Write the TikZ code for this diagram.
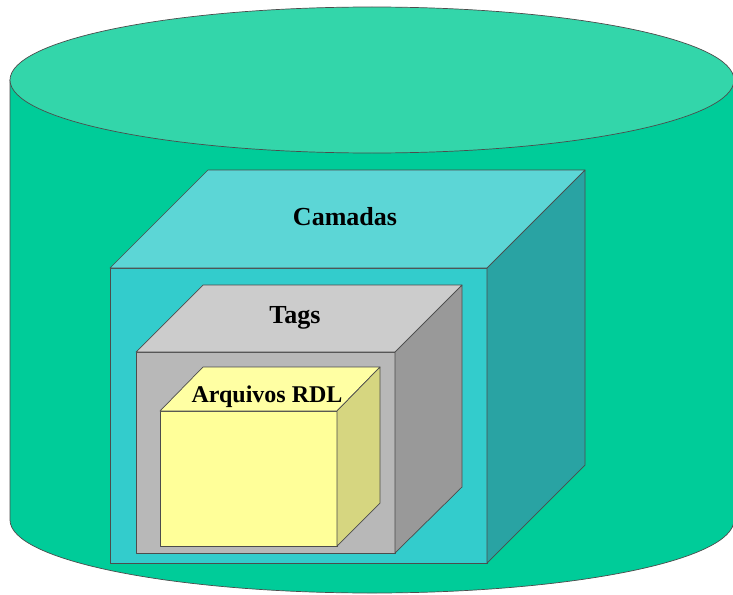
\documentclass[tikz,border=0pt]{standalone}
\usepackage{fontspec}
\setmainfont{Liberation Serif}
\definecolor{cyltop}{RGB}{51,214,170}
\definecolor{cylbody}{RGB}{0,204,153}
\definecolor{camfront}{RGB}{51,204,204}
\definecolor{camtop}{RGB}{92,214,214}
\definecolor{camside}{RGB}{41,163,163}
\definecolor{tagfront}{RGB}{184,184,184}
\definecolor{tagtop}{RGB}{204,204,204}
\definecolor{tagside}{RGB}{153,153,153}
\definecolor{rdlfront}{RGB}{255,255,153}
\definecolor{rdltop}{RGB}{255,255,163}
\definecolor{rdlside}{RGB}{214,214,128}
\begin{document}
\begin{tikzpicture}[x=1pt,y=-1pt,
  cubeface/.style={draw=black!70, line width=0.7pt, line join=round},
  lbl/.style={font=\bfseries\fontsize{26}{26}\selectfont, inner sep=0pt, anchor=base}]
\useasboundingbox (0,0) rectangle (733,594);
\fill[white] (0,0) rectangle (733,594);
% cylinder
\draw[cubeface, fill=cylbody] (10,80) -- (10,520) arc[start angle=180, end angle=0, x radius=362, y radius=73] -- (734,80) -- cycle;
\draw[cubeface, fill=cyltop] (372,80) ellipse [x radius=362, y radius=73];
% Camadas cube
\draw[cubeface, fill=camfront] (110,268) rectangle (487,563);
\draw[cubeface, fill=camtop] (110,268) -- (208,170) -- (585,170) -- (487,268) -- cycle;
\draw[cubeface, fill=camside] (487,268) -- (585,170) -- (585,465) -- (487,563) -- cycle;
% Tags cube
\draw[cubeface, fill=tagfront] (136,352) rectangle (395,553);
\draw[cubeface, fill=tagtop] (136,352) -- (203,285) -- (462,285) -- (395,352) -- cycle;
\draw[cubeface, fill=tagside] (395,352) -- (462,285) -- (462,487) -- (395,553) -- cycle;
% RDL cube
\draw[cubeface, fill=rdlfront] (160,411) rectangle (337,546);
\draw[cubeface, fill=rdltop] (160,411) -- (203,367) -- (380,367) -- (337,411) -- cycle;
\draw[cubeface, fill=rdlside] (337,411) -- (380,367) -- (380,503) -- (337,546) -- cycle;
% labels
\node[lbl] (camadas) at (345,225) {Camadas};
\node[lbl] (tags) at (295,323) {Tags};
\node[lbl, font=\bfseries\fontsize{24}{24}\selectfont] (rdl) at (267,402) {Arquivos RDL};
\end{tikzpicture}
\end{document}
